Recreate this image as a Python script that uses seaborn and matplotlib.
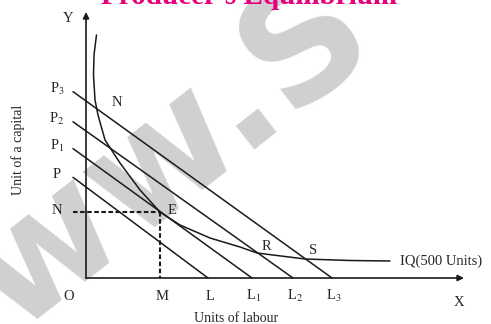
import matplotlib
matplotlib.use("Agg")
import matplotlib.pyplot as plt
import seaborn as sns
import pandas as pd

# isocost lines: capital intercept (on Y axis) and labour intercept (on X axis)
isocost_names = ["P", "P$_1$", "P$_2$", "P$_3$"]
labour_names = ["L", "L$_1$", "L$_2$", "L$_3$"]
capital_intercepts = [9.1, 12.0, 14.7, 17.7]
labour_intercepts = [12.2, 16.6, 20.7, 24.6]

# isoquant IQ(500 units)
iq_labour = [1.05, 0.8, 0.75, 0.9, 1.2, 1.9, 3.4, 5.4, 7.4, 9.4, 12.4, 15.4, 17.1, 21.9, 26.4, 30.4]
iq_capital = [24.3, 22.3, 20.3, 17.8, 16.3, 13.8, 11.5, 8.8, 6.6, 5.3, 4.0, 3.1, 2.5, 1.9, 1.75, 1.7]

# equilibrium point E
eq_labour = 7.4
eq_capital = 6.6
line_start = -1.3

sns.set_theme(style="white")
plt.rcParams["font.family"] = ["Liberation Serif", "DejaVu Serif"]
plt.rcParams["mathtext.fontset"] = "stix"

fig = plt.figure(figsize=(4.91, 3.24), dpi=100)
ax = fig.add_axes([0, 0, 1, 1])
ax.set_xlim(-8.6, 40.5)
ax.set_ylim(-4.6, 27.8)
ax.axis("off")

# watermark, behind everything
ax.text(-0.21, -0.31, "www.S", transform=fig.transFigure, rotation=38,
        ha="left", va="baseline", rotation_mode="anchor", fontsize=116,
        fontweight="bold", color="#d0d0d0", family="DejaVu Sans", zorder=0)

# title (cut off at top like the source)
ax.text(16.3, 27.4, "Producer's Equilibrium", ha="center", va="baseline",
        fontsize=21, fontweight="bold", color="#e5007d", zorder=1)

# axes with arrows
ax.annotate("", xy=(0, 26.6), xytext=(0, 0),
            arrowprops=dict(arrowstyle="-|>", color="#1a1a1a", lw=1.2,
                            mutation_scale=9, shrinkA=0, shrinkB=0))
ax.annotate("", xy=(37.8, 0), xytext=(0, 0),
            arrowprops=dict(arrowstyle="-|>", color="#1a1a1a", lw=1.2,
                            mutation_scale=9, shrinkA=0, shrinkB=0))

rows = []
for name, c, l in zip(isocost_names, capital_intercepts, labour_intercepts):
    rows.append({"line": name, "labour": line_start, "capital": c * (1 - line_start / l)})
    rows.append({"line": name, "labour": l, "capital": 0.0})
iso_df = pd.DataFrame(rows)
sns.lineplot(data=iso_df, x="labour", y="capital", units="line", estimator=None,
             color="#1a1a1a", lw=1.1, ax=ax, sort=False)

iq_df = pd.DataFrame({"labour": iq_labour, "capital": iq_capital})
sns.lineplot(data=iq_df, x="labour", y="capital", sort=False, estimator=None,
             color="#1a1a1a", lw=1.1, ax=ax)

# dotted lines to E
ax.plot([line_start, eq_labour], [eq_capital, eq_capital], ls=(0, (2.2, 1.2)),
        color="#1a1a1a", lw=1.5)
ax.plot([eq_labour, eq_labour], [eq_capital, 0], ls=(0, (2.2, 1.2)),
        color="#1a1a1a", lw=1.5)

fs = 10.5
for name, c, l in zip(isocost_names, capital_intercepts, labour_intercepts):
    ax.text(line_start - 1.6, c * (1 - line_start / l) + 0.3, name,
            ha="center", va="center", fontsize=fs)
for name, l in zip(labour_names, labour_intercepts):
    ax.text(l + 0.2, -1.8, name, ha="center", va="center", fontsize=fs)

ax.text(-1.7, -1.8, "O", ha="center", va="center", fontsize=fs)
ax.text(eq_labour + 0.2, -1.8, "M", ha="center", va="center", fontsize=fs)
ax.text(-2.9, eq_capital + 0.1, "N", ha="center", va="center", fontsize=fs)
ax.text(eq_labour + 1.2, eq_capital + 0.1, "E", ha="center", va="center", fontsize=fs)
ax.text(3.1, 17.6, "N", ha="center", va="center", fontsize=fs)
ax.text(18.0, 3.1, "R", ha="center", va="center", fontsize=fs)
ax.text(22.7, 2.8, "S", ha="center", va="center", fontsize=fs)
ax.text(31.4, 1.7, "IQ(500 Units)", ha="left", va="center", fontsize=fs)
ax.text(-1.8, 26.0, "Y", ha="center", va="center", fontsize=fs)
ax.text(37.3, -2.4, "X", ha="center", va="center", fontsize=fs)
ax.text(15.0, -4.0, "Units of labour", ha="center", va="center", fontsize=10)
ax.text(-6.8, 12.8, "Unit of a capital", ha="center", va="center",
        rotation=90, fontsize=10)

fig.savefig("out.png", dpi=100)
